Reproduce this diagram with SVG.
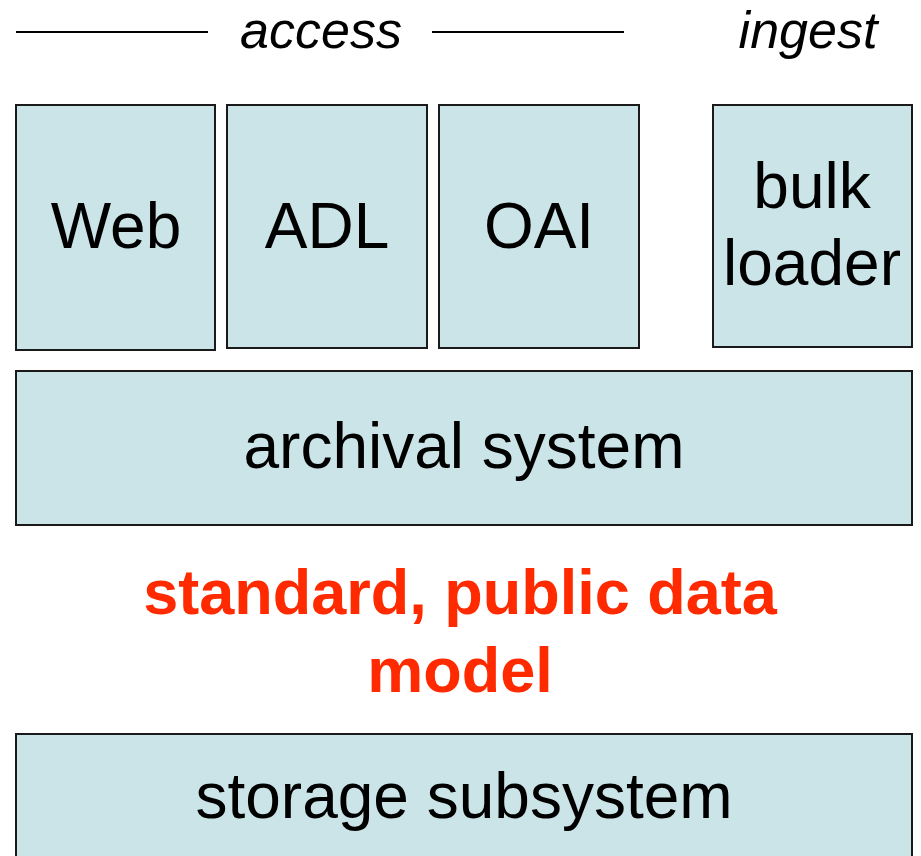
<svg xmlns="http://www.w3.org/2000/svg" width="921" height="856" viewBox="0 0 921 856">
<style>
.box{fill:#cbe4e8;stroke:#1a1a1a;stroke-width:2}
.lbl{font-family:"Liberation Sans",Arial,sans-serif;font-size:64px;fill:#000;text-anchor:middle}
.hdr{font-family:"Liberation Sans",Arial,sans-serif;font-size:52px;font-style:italic;fill:#000;text-anchor:middle}
.red{font-family:"Liberation Sans",Arial,sans-serif;font-size:63px;font-weight:bold;fill:#ff2a00;text-anchor:middle}
</style>
<rect width="921" height="856" fill="#fff"/>
<g id="headers">
<line x1="16" y1="32" x2="208" y2="32" stroke="#000" stroke-width="2"/>
<line x1="432" y1="32" x2="624" y2="32" stroke="#000" stroke-width="2"/>
<text class="hdr" x="321" y="48">access</text>
<text class="hdr" x="808" y="48">ingest</text>
</g>
<g id="web"><rect class="box" x="16" y="105" width="199" height="245"/><text class="lbl" x="116" y="248">Web</text></g>
<g id="adl"><rect class="box" x="227" y="105" width="200" height="243"/><text class="lbl" x="327" y="248">ADL</text></g>
<g id="oai"><rect class="box" x="439" y="105" width="200" height="243"/><text class="lbl" x="539" y="248">OAI</text></g>
<g id="bulk"><rect class="box" x="713" y="105" width="199" height="242"/><text class="lbl" x="812" y="208">bulk</text><text class="lbl" x="812" y="285">loader</text></g>
<g id="archival"><rect class="box" x="16" y="371" width="896" height="154"/><text class="lbl" x="464" y="468">archival system</text></g>
<g id="model"><text class="red" x="460" y="614">standard, public data</text><text class="red" x="460" y="692">model</text></g>
<g id="storage"><rect class="box" x="16" y="734" width="896" height="140"/><text class="lbl" x="464" y="818">storage subsystem</text></g>
<g id="connectors"/>
</svg>
